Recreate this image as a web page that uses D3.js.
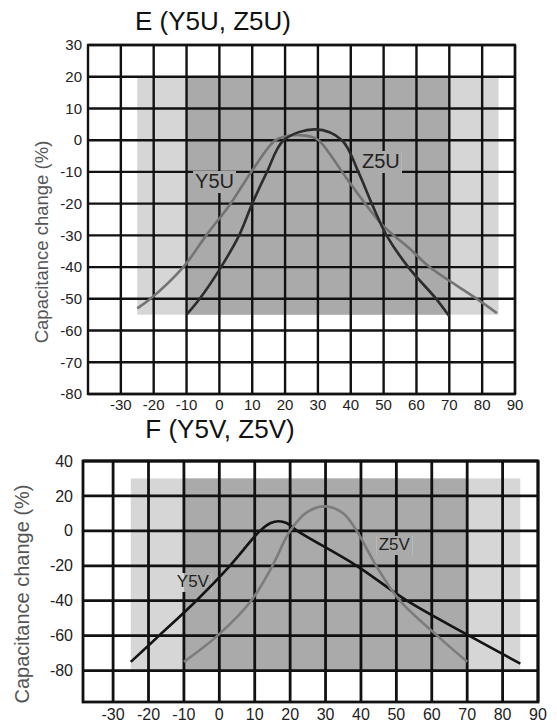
<!DOCTYPE html>
<html>
<head>
<meta charset="utf-8">
<script src="https://cdn.jsdelivr.net/npm/d3@7/dist/d3.min.js"></script>
<style>
  body { margin: 0; background: #fff; }
  svg { display: block; }
  text { font-family: "Liberation Sans", Arial, sans-serif; }
</style>
</head>
<body>
<div id="chart"></div>
<script>
// capacitance change (%) vs temperature (deg C)
const y5u = [[-25, -53], [-21, -50], [-11, -40], [-4, -30], [3.4, -20], [9.7, -10], [17, 0], [20.5, 1.3],
  [24.5, 1.6], [27.5, 1.2], [30.2, 0], [39.8, -13.6], [49.9, -27], [58, -34.2], [64, -40], [78.4, -50], [84.5, -54.5]];
const z5u = [[-10, -55], [-6, -50], [0.5, -40], [6, -30], [10, -20], [14.5, -10], [19.6, 0],
  [29.2, 3.4], [37.3, 0], [42.3, -10], [46.4, -20], [50.9, -30], [57.5, -40], [66, -50], [70, -55.5]];
const y5v = [[-25, -75], [-17, -60], [-6.5, -40], [3, -20], [11.5, 0], [14.5, 4.5], [16.7, 5.5],
  [19, 4.5], [22, 0], [38.8, -20], [53, -40], [70.5, -60], [85, -76]];
const z5v = [[-10, -75], [-0.5, -60], [9, -40], [15, -20], [20, 0], [25, 11], [30, 14], [35, 10],
  [38.8, 0], [44.3, -20], [51, -40], [61.5, -60], [70, -75]];

// spec bands: [tMin, tMax, capMin, capMax]
const eWideBand = [-25, 85, -55, 20];
const eNarrowBand = [-10, 70, -55, 20];
const fWideBand = [-25, 85, -80, 30];
const fNarrowBand = [-10, 70, -80, 30];

const topXTicks = [-30, -20, -10, 0, 10, 20, 30, 40, 50, 60, 70, 80, 90];
const topYTicks = [30, 20, 10, 0, -10, -20, -30, -40, -50, -60, -70, -80];
const botXTicks = [-30, -20, -10, 0, 10, 20, 30, 40, 50, 60, 70, 80, 90];
const botYTicks = [40, 20, 0, -20, -40, -60, -80];

const W = 557, H = 723;
const LIGHT = '#d6d6d6', DARK = '#aaaaaa';

const svg = d3.select('#chart').append('svg')
  .attr('width', W).attr('height', H);
const defs = svg.append('defs');
let clipN = 0;

function drawPanel(cfg) {
  const x = d3.scaleLinear().domain(cfg.xDom).range(cfg.xRange);
  const y = d3.scaleLinear().domain(cfg.yDom).range(cfg.yRange);
  const g = svg.append('g');

  const shades = (sel) => {
    cfg.bands.forEach(([b, fill]) => {
      sel.append('rect')
        .attr('x', x(b[0])).attr('width', x(b[1]) - x(b[0]))
        .attr('y', y(b[3])).attr('height', y(b[2]) - y(b[3]))
        .attr('fill', fill);
    });
  };
  shades(g);

  // grid
  g.selectAll('.vgrid').data(cfg.xTicks).enter().append('line')
    .attr('x1', d => x(d)).attr('x2', d => x(d))
    .attr('y1', cfg.yRange[1]).attr('y2', cfg.yRange[0])
    .attr('stroke', '#111').attr('stroke-width', cfg.gridW);
  g.selectAll('.hgrid').data(cfg.yTicks).enter().append('line')
    .attr('y1', d => y(d)).attr('y2', d => y(d))
    .attr('x1', cfg.xRange[0]).attr('x2', cfg.xRange[1])
    .attr('stroke', '#111').attr('stroke-width', cfg.gridW);
  g.append('rect')
    .attr('x', cfg.xRange[0]).attr('y', cfg.yRange[1])
    .attr('width', cfg.xRange[1] - cfg.xRange[0])
    .attr('height', cfg.yRange[0] - cfg.yRange[1])
    .attr('fill', 'none').attr('stroke', '#111').attr('stroke-width', cfg.gridW);

  // tick labels
  g.selectAll('.xlab').data(cfg.xTicks).enter().append('text')
    .attr('x', d => x(d)).attr('y', cfg.yRange[0] + cfg.xLabGap)
    .attr('text-anchor', 'middle').attr('font-size', cfg.tickSize)
    .attr('fill', '#222').text(d => d);
  g.selectAll('.ylab').data(cfg.yTicks).enter().append('text')
    .attr('x', cfg.xRange[0] - cfg.yLabGap).attr('y', d => y(d))
    .attr('dy', '0.35em').attr('text-anchor', 'end')
    .attr('font-size', cfg.tickSize).attr('fill', '#222').text(d => d);

  // titles
  g.append('text').attr('x', cfg.title.x).attr('y', cfg.title.y)
    .attr('text-anchor', 'middle').attr('font-size', 26).attr('fill', '#111')
    .text(cfg.title.text);
  g.append('text')
    .attr('transform', `translate(${cfg.yTitle.x},${cfg.yTitle.y}) rotate(-90)`)
    .attr('text-anchor', 'middle').attr('font-size', cfg.yTitle.size).attr('fill', '#555')
    .text('Capacitance change (%)');

  // series labels, sitting on a patch of background that hides the grid under them
  cfg.labels.forEach(l => {
    const t = g.append('text').attr('x', x(l.t)).attr('y', y(l.c))
      .attr('font-size', l.size).attr('fill', '#222').text(l.text);
    const bb = t.node().getBBox();
    const id = 'lc' + (clipN++);
    defs.append('clipPath').attr('id', id).append('rect')
      .attr('x', bb.x - 2).attr('y', bb.y + 1)
      .attr('width', bb.width + 4).attr('height', bb.height);
    const bg = g.insert('g', () => t.node()).attr('clip-path', `url(#${id})`);
    bg.append('rect').attr('x', bb.x - 2).attr('y', bb.y + 1)
      .attr('width', bb.width + 4).attr('height', bb.height).attr('fill', '#fff');
    shades(bg);
  });

  // curves
  const line = d3.line().x(d => x(d[0])).y(d => y(d[1]))
    .curve(d3.curveCatmullRom.alpha(0.5));
  cfg.series.forEach(s => {
    g.append('path').datum(s.data).attr('d', line)
      .attr('fill', 'none').attr('stroke', s.color)
      .attr('stroke-width', 2.6).attr('stroke-linejoin', 'round');
  });
}

drawPanel({
  xDom: [-40, 90], xRange: [88, 515],
  yDom: [-80, 30], yRange: [394, 45],
  xTicks: topXTicks, yTicks: topYTicks,
  bands: [[eWideBand, LIGHT], [eNarrowBand, DARK]],
  gridW: 2.4, tickSize: 15, xLabGap: 16, yLabGap: 6,
  title: { text: 'E (Y5U, Z5U)', x: 213, y: 30 },
  yTitle: { x: 48, y: 242, size: 18.5 },
  labels: [
    { text: 'Y5U', t: -7.4, c: -15.1, size: 20 },
    { text: 'Z5U', t: 43.4, c: -8.8, size: 20 }
  ],
  series: [
    { data: y5u, color: '#747474' },
    { data: z5u, color: '#2c2c2c' }
  ]
});

drawPanel({
  xDom: [-38.5, 90], xRange: [83, 538],
  yDom: [-98, 40], yRange: [702, 461],
  xTicks: botXTicks, yTicks: botYTicks,
  bands: [[fWideBand, LIGHT], [fNarrowBand, DARK]],
  gridW: 2.8, tickSize: 16, xLabGap: 18, yLabGap: 10,
  title: { text: 'F (Y5V, Z5V)', x: 220, y: 438 },
  yTitle: { x: 29, y: 594, size: 20 },
  labels: [
    { text: 'Y5V', t: -12, c: -32.1, size: 17 },
    { text: 'Z5V', t: 45, c: -11, size: 17 }
  ],
  series: [
    { data: y5v, color: '#141414' },
    { data: z5v, color: '#7c7c7c' }
  ]
});
</script>
</body>
</html>
